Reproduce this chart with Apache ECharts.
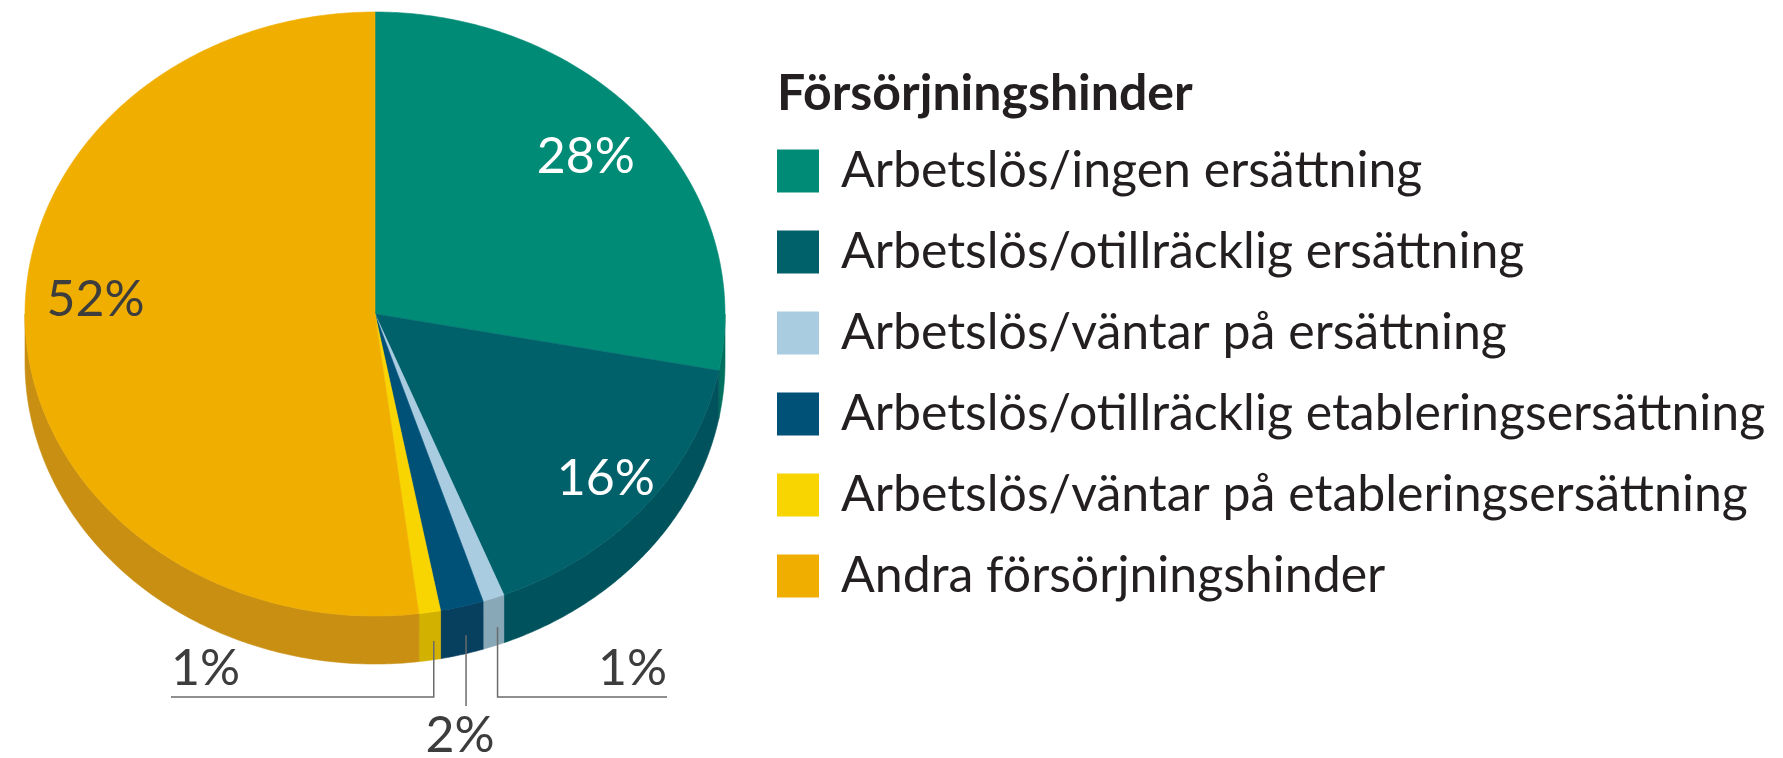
<!DOCTYPE html>
<html>
<head>
<meta charset="utf-8">
<title>Försörjningshinder</title>
<script src="https://cdn.jsdelivr.net/npm/echarts@6/dist/echarts.min.js"></script>
<style>
  html, body { margin: 0; padding: 0; background: #fff; }
  #chart { width: 1783px; height: 758px; }
</style>
</head>
<body>
<div id="chart"></div>
<script>
// data
const categories = [
  'Arbetslös/ingen ersättning',
  'Arbetslös/otillräcklig ersättning',
  'Arbetslös/väntar på ersättning',
  'Arbetslös/otillräcklig etableringsersättning',
  'Arbetslös/väntar på etableringsersättning',
  'Andra försörjningshinder'
];
const shares = [28, 16, 1, 2, 1, 52];
const topColors = ['#008b77', '#00616b', '#a9cce1', '#005178', '#f8d500', '#f0ae00'];
const sideColors = ['#00705f', '#00535c', '#88a7b7', '#073f5e', '#d2b100', '#c88f12'];

// pie geometry (top face is an ellipse, side is extruded down)
const cx = 375, cy = 314, rx = 350, ry = 302, depth = 48;
const total = shares.reduce((a, b) => a + b, 0);
// small shifts of the inner labels, like in the original
const labelNudge = { 0: [-5, -3], 1: [15, 11], 5: [0, -29] };

function startOf(i) {
  let s = 0;
  for (let k = 0; k < i; k++) s += shares[k];
  return s / total * 2 * Math.PI;
}
// t measured from 12 o'clock, clockwise
function px(t) { return cx + rx * Math.sin(t); }
function py(t) { return cy - ry * Math.cos(t); }

function arc(a, b, dy) {
  const pts = [];
  const n = Math.max(2, Math.ceil((b - a) / 0.01));
  for (let k = 0; k <= n; k++) {
    const t = a + (b - a) * k / n;
    pts.push([px(t), py(t) + dy]);
  }
  return pts;
}

function renderSide(params, api) {
  const i = params.dataIndex;
  let a = Math.max(startOf(i), Math.PI / 2);
  let b = Math.min(startOf(i) + shares[i] / total * 2 * Math.PI, Math.PI * 1.5);
  if (b <= a) return;
  const pts = arc(a, b, 0).concat(arc(a, b, depth).reverse());
  return {
    type: 'polygon',
    shape: { points: pts },
    style: { fill: sideColors[i], stroke: sideColors[i], lineWidth: 0.6 }
  };
}

// small slices get outside labels: left, down, right (sorted by rim x)
const small = shares.map((v, i) => i).filter(i => shares[i] < 5);
const smallByX = small.slice().sort((p, q) => {
  const mp = startOf(p) + shares[p] / total * Math.PI;
  const mq = startOf(q) + shares[q] / total * Math.PI;
  return px(mp) - px(mq);
});

function renderTop(params, api) {
  const i = params.dataIndex;
  const a = startOf(i);
  const b = a + shares[i] / total * 2 * Math.PI;
  const mid = (a + b) / 2;
  const pts = [[cx, cy]].concat(arc(a, b, 0));
  const children = [{
    type: 'polygon',
    shape: { points: pts },
    style: { fill: topColors[i], stroke: topColors[i], lineWidth: 0.6 }
  }];
  const txt = shares[i] + '%';
  const font = '50px Lato';
  if (shares[i] >= 5) {
    const nudge = labelNudge[i] || [0, 0];
    children.push({
      type: 'text',
      z2: 10,
      style: {
        text: txt,
        x: cx + rx * 0.8 * Math.sin(mid) + nudge[0],
        y: cy - ry * 0.8 * Math.cos(mid) + nudge[1],
        fill: i === 5 ? '#3d3d3d' : '#ffffff',
        font: font, align: 'center', verticalAlign: 'middle'
      }
    });
  } else {
    const pos = smallByX.indexOf(i);
    const lx = px(mid) + 4;
    const ly = py(mid) + depth * 0.6;
    const lineStyle = { stroke: '#6b6b6b', lineWidth: 1.5, fill: 'none' };
    if (pos === 0) {
      children.push({ type: 'polyline', z2: 10, shape: { points: [[lx, ly], [lx, 697], [171, 697]] }, style: lineStyle });
      children.push({ type: 'text', z2: 10, style: { text: txt, x: 171, y: 669, fill: '#3d3d3d', font: font, align: 'left', verticalAlign: 'middle' } });
    } else if (pos === smallByX.length - 1) {
      children.push({ type: 'polyline', z2: 10, shape: { points: [[lx, ly], [lx, 697], [667, 697]] }, style: lineStyle });
      children.push({ type: 'text', z2: 10, style: { text: txt, x: 667, y: 669, fill: '#3d3d3d', font: font, align: 'right', verticalAlign: 'middle' } });
    } else {
      children.push({ type: 'line', z2: 10, shape: { x1: lx, y1: ly, x2: lx, y2: 706 }, style: lineStyle });
      children.push({ type: 'text', z2: 10, style: { text: txt, x: lx - 6, y: 736, fill: '#3d3d3d', font: font, align: 'center', verticalAlign: 'middle' } });
    }
  }
  return { type: 'group', children: children };
}

const chart = echarts.init(document.getElementById('chart'), null, { renderer: 'canvas' });
const items = categories.map((c, i) => ({ name: c, value: shares[i], itemStyle: { color: topColors[i] } }));

chart.setOption({
  animation: false,
  title: {
    text: 'Försörjningshinder',
    left: 777, top: 66, padding: 0,
    textStyle: { fontFamily: 'Lato', fontWeight: 'bold', fontSize: 50, color: '#231f20', lineHeight: 56 }
  },
  legend: {
    orient: 'vertical',
    left: 777, top: 146,
    icon: 'rect',
    itemWidth: 42, itemHeight: 43,
    itemGap: 31,
    padding: 0,
    selectedMode: false,
    data: categories,
    textStyle: { fontFamily: 'Lato', fontSize: 50, color: '#231f20', lineHeight: 50, padding: [0, 0, 0, 17] }
  },
  series: [
    {
      // only feeds the legend
      type: 'pie', name: 'legend', radius: [0, 0], center: [cx, cy],
      label: { show: false }, silent: true, data: items
    },
    {
      type: 'custom', name: 'sida', coordinateSystem: 'none', z: 1, silent: true,
      renderItem: renderSide, data: items
    },
    {
      type: 'custom', name: 'topp', coordinateSystem: 'none', z: 2, silent: true,
      renderItem: renderTop, data: items
    }
  ]
});
</script>
</body>
</html>
